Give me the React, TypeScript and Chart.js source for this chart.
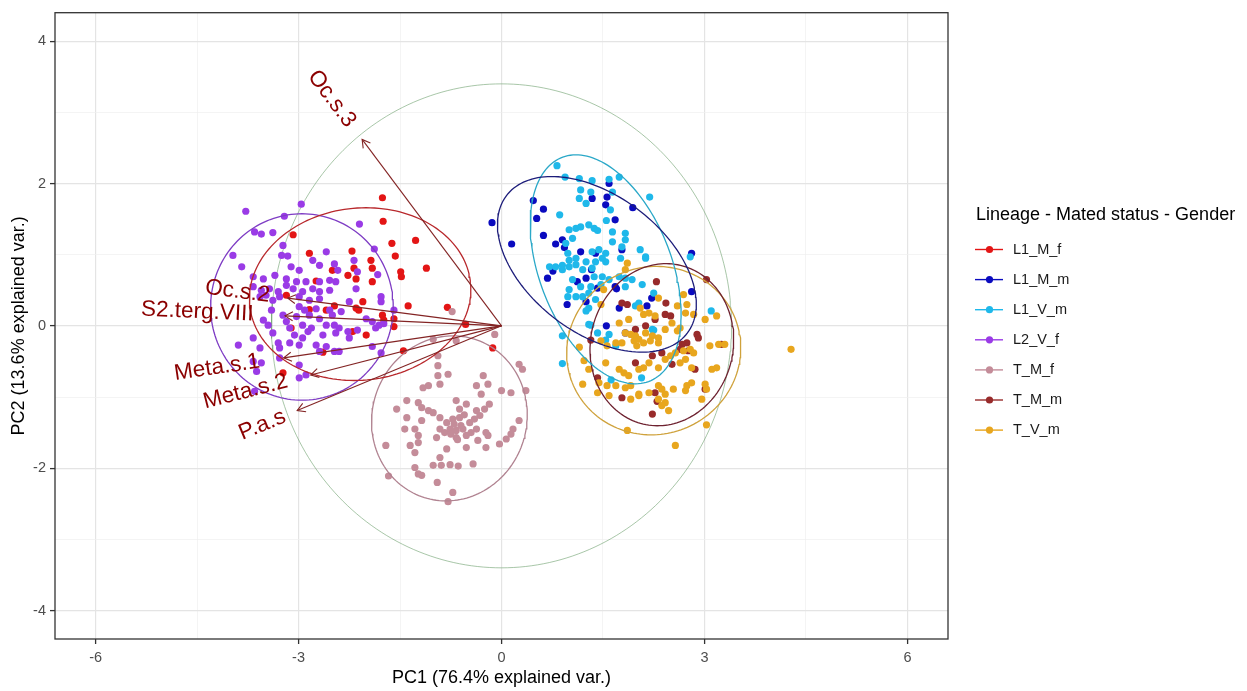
import React, { useEffect, useRef } from "react";
import { Chart, registerables } from "chart.js";
Chart.register(...registerables);

const FONT = "'Liberation Sans', Arial, sans-serif";

const groupNames = ["L1_M_f", "L1_M_m", "L1_V_m", "L2_V_f", "T_M_f", "T_M_m", "T_V_m"];
const groupColors = ["#E31515", "#0A0ABF", "#1FB8EA", "#9A3BE6", "#C48C99", "#982B2B", "#E8A61E"];
const ellipseColors = ["#B8282C", "#1C1C7A", "#2AA8C8", "#7E3CC4", "#B08290", "#6E2230", "#CFA23C"];

const L1_M_f: [number, number][] = [
  [-1.76, 1.8], [-1.75, 1.47], [-3.08, 1.28], [-1.62, 1.16], [-1.27, 1.2], [-1.57, 0.98], [-1.11, 0.81],
  [-2.84, 1.02], [-2.21, 1.05], [-1.93, 0.92], [-2.18, 0.81], [-1.91, 0.81], [-1.49, 0.76], [-1.48, 0.69],
  [-2.74, 0.63], [-2.5, 0.78], [-2.27, 0.71], [-2.15, 0.66], [-1.91, 0.62], [-3.18, 0.43], [-2.47, 0.28],
  [-2.84, 0.23], [-2.59, 0.22], [-2.15, 0.25], [-2.05, 0.34], [-2.11, 0.22], [-1.38, 0.28], [-0.8, 0.26],
  [-1.76, 0.15], [-1.74, 0.08], [-1.59, 0.1], [-1.59, -0.01], [-3.11, -0.03], [-2.2, -0.08], [-2.0, -0.13],
  [-2.64, -0.37], [-1.45, -0.35], [-3.23, -0.66], [-0.53, 0.02], [-0.13, -0.31],
];

const L1_M_m: [number, number][] = [
  [-0.14, 1.45], [0.15, 1.15], [0.47, 1.76], [0.62, 1.64], [0.52, 1.51], [0.62, 1.27], [0.8, 1.15],
  [0.9, 1.21], [0.93, 1.1], [1.34, 1.79], [1.56, 1.81], [1.54, 1.7], [1.94, 1.66], [1.68, 1.49],
  [1.78, 1.07], [1.17, 1.04], [1.39, 1.02], [0.68, 0.67], [0.76, 0.77], [1.12, 0.62], [1.25, 0.67],
  [1.42, 0.53], [1.33, 0.79], [1.68, 0.55], [1.7, 0.52], [0.97, 0.3], [1.25, 0.34], [1.74, 0.25],
  [2.22, 0.39], [2.15, 0.28], [1.55, 0.0], [2.81, 1.02], [2.81, 0.48], [1.83, -0.1], [1.59, 2.0],
];

const L1_V_m: [number, number][] = [
  [0.82, 2.25], [0.94, 2.09], [1.15, 2.07], [1.34, 2.04], [1.59, 2.06], [1.74, 2.09], [1.17, 1.91],
  [1.32, 1.88], [1.64, 1.88], [2.19, 1.81], [1.15, 1.79], [1.25, 1.72], [1.61, 1.63], [0.86, 1.56],
  [1.55, 1.48], [1.0, 1.35], [1.1, 1.37], [1.17, 1.39], [1.29, 1.42], [1.37, 1.37], [1.42, 1.34],
  [1.64, 1.32], [1.83, 1.3], [1.05, 1.23], [1.64, 1.18], [1.83, 1.21], [1.78, 1.11], [2.05, 1.07],
  [2.13, 0.95], [0.95, 1.16], [0.98, 1.02], [1.1, 0.95], [1.34, 1.04], [1.44, 1.07], [1.54, 1.02],
  [1.49, 0.95], [1.1, 0.86], [1.25, 0.9], [1.39, 0.9], [1.54, 0.9], [0.71, 0.83], [0.8, 0.83],
  [0.9, 0.79], [1.0, 0.83], [1.2, 0.79], [1.37, 0.69], [1.49, 0.69], [1.59, 0.65], [1.74, 0.69],
  [1.83, 0.67], [1.93, 0.65], [1.05, 0.65], [1.17, 0.55], [1.32, 0.55], [1.47, 0.58], [1.0, 0.51],
  [1.1, 0.41], [1.2, 0.41], [1.29, 0.46], [1.83, 0.55], [2.08, 0.58], [0.98, 0.41], [1.29, 0.25],
  [1.25, 0.21], [1.39, 0.37], [0.9, -0.14], [1.29, 0.02], [1.42, -0.1], [1.59, -0.12], [2.23, -0.05],
  [1.98, 0.28], [2.79, 0.97], [0.9, -0.53], [1.69, -0.28], [0.9, 0.85], [1.0, 0.92], [1.34, 0.81],
  [1.76, 0.95], [2.13, 0.97], [2.03, 0.32], [2.25, 0.46], [2.25, -0.06], [1.62, -0.76], [2.07, -0.73],
  [3.1, 0.21], [1.32, 0.01], [1.54, -0.2],
];

const L2_V_f: [number, number][] = [
  [-3.78, 1.61], [-2.96, 1.71], [-3.21, 1.54], [-3.65, 1.32], [-3.55, 1.29], [-3.38, 1.31], [-3.97, 0.99],
  [-3.84, 0.83], [-3.23, 1.13], [-3.25, 0.99], [-3.16, 0.98], [-2.1, 1.43], [-1.88, 1.08], [-2.59, 1.04],
  [-2.79, 0.92], [-3.11, 0.83], [-2.99, 0.78], [-2.69, 0.85], [-2.47, 0.87], [-2.42, 0.78], [-2.18, 0.92],
  [-2.13, 0.76], [-1.83, 0.72], [-3.67, 0.69], [-3.52, 0.66], [-3.35, 0.71], [-3.18, 0.66], [-3.03, 0.62],
  [-2.89, 0.62], [-2.69, 0.62], [-2.54, 0.64], [-2.45, 0.62], [-3.67, 0.55], [-3.55, 0.5], [-3.43, 0.52],
  [-3.3, 0.48], [-3.18, 0.57], [-3.08, 0.52], [-2.94, 0.48], [-2.79, 0.52], [-2.69, 0.48], [-2.54, 0.5],
  [-2.15, 0.52], [-3.57, 0.41], [-3.48, 0.43], [-3.38, 0.36], [-3.28, 0.41], [-2.99, 0.41], [-2.84, 0.36],
  [-2.69, 0.38], [-2.25, 0.34], [-1.78, 0.41], [-1.78, 0.34], [-2.99, 0.27], [-2.91, 0.22], [-2.74, 0.24],
  [-2.54, 0.22], [-2.37, 0.2], [-3.4, 0.22], [-3.23, 0.15], [-3.03, 0.13], [-2.84, 0.15], [-2.69, 0.1],
  [-2.5, 0.15], [-2.0, 0.1], [-1.91, 0.06], [-1.81, 0.01], [-1.74, 0.03], [-1.59, 0.22], [-3.52, 0.08],
  [-3.45, 0.01], [-3.18, 0.06], [-3.13, -0.03], [-2.94, 0.01], [-2.81, -0.03], [-2.59, 0.01], [-2.47, 0.01],
  [-2.4, -0.03], [-2.27, -0.08], [-2.13, -0.06], [-3.67, -0.17], [-3.38, -0.1], [-3.06, -0.13], [-2.94, -0.17],
  [-2.86, -0.08], [-2.64, -0.13], [-2.45, -0.1], [-2.25, -0.17], [-1.86, -0.03], [-3.89, -0.27], [-3.3, -0.24],
  [-3.13, -0.24], [-2.99, -0.27], [-2.74, -0.27], [-2.69, -0.36], [-2.59, -0.29], [-2.47, -0.36], [-2.4, -0.36],
  [-1.91, -0.29], [-1.78, -0.38], [-3.57, -0.31], [-3.67, -0.5], [-3.55, -0.52], [-3.28, -0.31], [-3.28, -0.45],
  [-2.99, -0.55], [-3.62, -0.64], [-2.99, -0.73], [-2.89, -0.69], [-3.65, -0.92],
];

const T_M_f: [number, number][] = [
  [-1.01, -0.19], [-0.67, -0.21], [-0.1, -0.12], [-0.94, -0.56], [-0.79, -0.68], [-0.94, -0.7], [-0.91, -0.82],
  [-1.16, -0.87], [-1.08, -0.84], [-0.27, -0.7], [-0.37, -0.84], [-0.2, -0.82], [0.26, -0.54], [0.31, -0.61],
  [0.0, -0.91], [0.14, -0.94], [0.36, -0.91], [-0.3, -0.96], [-0.18, -1.1], [-1.55, -1.17], [-1.4, -1.05],
  [-1.23, -1.08], [-1.18, -1.15], [-1.08, -1.19], [-1.01, -1.22], [-0.67, -1.05], [-0.52, -1.1], [-0.62, -1.17],
  [-0.37, -1.19], [-0.32, -1.26], [-0.25, -1.17], [-1.4, -1.29], [-1.18, -1.33], [-0.91, -1.29], [-0.81, -1.36],
  [-0.72, -1.31], [-0.62, -1.29], [-0.47, -1.36], [-0.4, -1.31], [-1.43, -1.45], [-1.28, -1.45], [-1.23, -1.54],
  [-0.91, -1.45], [-0.84, -1.5], [-0.76, -1.45], [-0.67, -1.47], [-0.57, -1.45], [-0.52, -1.54], [-0.37, -1.45],
  [-0.2, -1.54], [-0.23, -1.5], [0.26, -1.33], [0.17, -1.45], [0.14, -1.52], [0.07, -1.59], [-0.03, -1.66],
  [-1.71, -1.68], [-1.35, -1.68], [-1.23, -1.64], [-0.96, -1.57], [-0.81, -1.73], [-0.67, -1.57], [-0.52, -1.71],
  [-0.35, -1.61], [-0.23, -1.71], [-1.28, -1.78], [-0.91, -1.85], [-1.01, -1.96], [-0.89, -1.96], [-0.76, -1.95],
  [-0.64, -1.97], [-0.42, -1.94], [-1.28, -1.99], [-1.23, -2.08], [-1.18, -2.1], [-1.67, -2.11], [-0.95, -2.2],
  [-0.72, -2.34], [-0.79, -2.47], [-0.73, 0.2], [-0.94, -0.42], [-0.6, -1.4], [-0.7, -1.38], [-0.55, -1.25],
  [-0.45, -1.5], [-0.75, -1.52], [-0.65, -1.6],
];

const T_M_m: [number, number][] = [
  [2.29, 0.62], [3.03, 0.65], [1.78, 0.32], [1.86, 0.3], [2.43, 0.32], [2.27, 0.09], [2.42, 0.16],
  [2.5, 0.14], [2.89, -0.12], [2.91, -0.17], [2.74, -0.24], [2.76, -0.35], [2.67, -0.26], [1.98, -0.05],
  [2.23, -0.42], [2.37, -0.38], [2.52, -0.54], [2.86, -0.61], [3.25, -0.26], [1.32, -0.2], [1.42, -0.73],
  [1.98, -0.52], [1.78, -1.01], [2.27, -0.94], [2.3, -1.06], [2.23, -1.24], [3.01, -0.89], [2.13, 0.0],
  [2.64, -0.33],
];

const T_V_m: [number, number][] = [
  [1.86, 0.88], [1.83, 0.79], [1.51, 0.51], [1.47, 0.3], [2.05, 0.25], [2.32, 0.39], [2.6, 0.28],
  [2.69, 0.44], [2.74, 0.3], [2.72, 0.18], [2.84, 0.16], [3.01, 0.09], [3.18, 0.14], [1.74, 0.04],
  [1.88, 0.09], [2.1, 0.16], [2.18, 0.18], [2.27, 0.14], [2.42, -0.05], [2.52, 0.04], [2.6, -0.07],
  [2.64, -0.03], [1.83, -0.1], [1.91, -0.12], [1.98, -0.14], [2.03, -0.19], [2.13, -0.1], [2.23, -0.14],
  [2.32, -0.17], [1.78, -0.24], [1.96, -0.21], [2.0, -0.28], [2.1, -0.24], [2.2, -0.21], [2.32, -0.24],
  [1.47, -0.21], [1.56, -0.28], [1.69, -0.24], [3.08, -0.28], [3.21, -0.26], [3.3, -0.26], [1.54, -0.52],
  [1.74, -0.61], [1.81, -0.66], [1.88, -0.7], [2.03, -0.61], [2.1, -0.59], [2.18, -0.52], [2.32, -0.59],
  [2.42, -0.47], [2.5, -0.42], [2.57, -0.38], [2.69, -0.35], [2.79, -0.33], [2.84, -0.38], [2.72, -0.47],
  [2.64, -0.52], [3.11, -0.61], [3.18, -0.59], [2.81, -0.59], [1.22, -0.49], [1.29, -0.61], [1.2, -0.82],
  [1.44, -0.8], [1.56, -0.84], [1.69, -0.84], [1.83, -0.87], [1.91, -0.84], [2.03, -0.96], [2.18, -0.94],
  [2.32, -0.84], [2.37, -0.89], [2.42, -0.96], [2.54, -0.89], [2.72, -0.91], [2.74, -0.84], [2.81, -0.8],
  [3.01, -0.82], [3.03, -0.89], [2.96, -1.03], [1.42, -0.94], [1.59, -0.98], [1.91, -1.03], [2.03, -0.98],
  [2.32, -1.03], [2.42, -1.08], [2.37, -1.12], [2.47, -1.19], [1.86, -1.47], [3.03, -1.39], [2.57, -1.68],
  [4.28, -0.33], [1.15, -0.3],
];

const groupPoints = [L1_M_f, L1_M_m, L1_V_m, L2_V_f, T_M_f, T_M_m, T_V_m];

// 68% normal data ellipses per group: centre, semi-axes, rotation (degrees)
const ellipseCX = [-2.09, 1.41, 1.54, -2.95, -0.77, 2.37, 2.25];
const ellipseCY = [0.446, 0.864, 0.794, 0.265, -1.3, -0.265, -0.348];
const ellipseA = [1.64, 1.65, 1.7, 1.35, 1.18, 1.15, 1.29];
const ellipseB = [1.21, 0.98, 0.97, 1.31, 1.13, 1.05, 1.18];
const ellipseAngle = [5, -34.4, -66.8, 0, 50, 70, 10];

const circleRadius = 3.4;

const varNames = ["Oc.s.3", "Oc.s.2", "S2.terg.VIII", "Meta.s.1", "Meta.s.2", "P.a.s"];
const varX = [-2.06, -3.16, -3.2, -3.22, -2.82, -3.02];
const varY = [2.62, 0.39, 0.14, -0.45, -0.69, -1.19];

const xTicks = [-6, -4.5, -3, -1.5, 0, 1.5, 3, 4.5, 6];
const xTickLabels = [-6, -3, 0, 3, 6];
const yTicks = [-4, -3, -2, -1, 0, 1, 2, 3, 4];
const yTickLabels = [-4, -2, 0, 2, 4];

const xTitle = "PC1 (76.4% explained var.)";
const yTitle = "PC2 (13.6% explained var.)";
const legendTitle = "Lineage - Mated status - Gender";

const ARROW_COLOR = "#832424";
const LABEL_COLOR = "#8B0000";

function ellipsePoints(cx: number, cy: number, a: number, b: number, angDeg: number, n = 160) {
  const t0 = (angDeg * Math.PI) / 180;
  const pts: { x: number; y: number }[] = [];
  for (let i = 0; i <= n; i++) {
    const t = (2 * Math.PI * i) / n;
    const ex = a * Math.cos(t);
    const ey = b * Math.sin(t);
    pts.push({ x: cx + ex * Math.cos(t0) - ey * Math.sin(t0), y: cy + ex * Math.sin(t0) + ey * Math.cos(t0) });
  }
  return pts;
}

const overlayPlugin = {
  id: "overlay",
  afterDatasetsDraw(chart: any) {
    const { ctx, chartArea, scales } = chart;
    const xs = scales.x;
    const ys = scales.y;
    const ox = xs.getPixelForValue(0);
    const oy = ys.getPixelForValue(0);
    ctx.save();
    ctx.beginPath();
    ctx.rect(chartArea.left, chartArea.top, chartArea.right - chartArea.left, chartArea.bottom - chartArea.top);
    ctx.clip();
    varNames.forEach((name, i) => {
      const ex = xs.getPixelForValue(varX[i]);
      const ey = ys.getPixelForValue(varY[i]);
      const ang = Math.atan2(ey - oy, ex - ox);
      const L = 9;
      const sp = Math.PI / 6;
      ctx.strokeStyle = ARROW_COLOR;
      ctx.lineWidth = 1.1;
      ctx.beginPath();
      ctx.moveTo(ex - L * Math.cos(ang - sp), ey - L * Math.sin(ang - sp));
      ctx.lineTo(ex, ey);
      ctx.lineTo(ex - L * Math.cos(ang + sp), ey - L * Math.sin(ang + sp));
      ctx.stroke();
    });
    varNames.forEach((name, i) => {
      const ex = xs.getPixelForValue(varX[i]);
      const ey = ys.getPixelForValue(varY[i]);
      const rot = Math.atan((ey - oy) / (ex - ox));
      ctx.save();
      ctx.font = `22.5px ${FONT}`;
      const w = ctx.measureText(name).width;
      ctx.translate(ex, ey);
      ctx.rotate(rot);
      ctx.fillStyle = LABEL_COLOR;
      ctx.textAlign = "left";
      ctx.textBaseline = "middle";
      const hj = varX[i] < 0 ? 1.28 : -0.28;
      ctx.fillText(name, -hj * w, 0);
      ctx.restore();
    });
    ctx.restore();
  },
  afterDraw(chart: any) {
    const { ctx, chartArea } = chart;
    ctx.save();
    ctx.strokeStyle = "#333333";
    ctx.lineWidth = 1.3;
    ctx.strokeRect(chartArea.left, chartArea.top, chartArea.right - chartArea.left, chartArea.bottom - chartArea.top);
    // legend
    ctx.fillStyle = "#000000";
    ctx.font = `18px ${FONT}`;
    ctx.textAlign = "left";
    ctx.textBaseline = "middle";
    ctx.fillText(legendTitle, 976, 215);
    groupNames.forEach((g, i) => {
      const yy = 249.5 + i * 30.1;
      ctx.strokeStyle = groupColors[i];
      ctx.lineWidth = 1.4;
      ctx.beginPath();
      ctx.moveTo(975, yy);
      ctx.lineTo(1003, yy);
      ctx.stroke();
      ctx.fillStyle = groupColors[i];
      ctx.beginPath();
      ctx.arc(989.5, yy, 3.6, 0, Math.PI * 2);
      ctx.fill();
      ctx.fillStyle = "#1a1a1a";
      ctx.font = `14.5px ${FONT}`;
      ctx.fillText(g, 1013, yy);
    });
    ctx.restore();
  },
};

export default function App() {
  const ref = useRef<HTMLCanvasElement>(null);
  useEffect(() => {
    document.body.style.margin = "0";
    const datasets: any[] = [];
    datasets.push({
      label: "circle",
      data: ellipsePoints(0, 0, circleRadius, circleRadius, 0, 240),
      showLine: true,
      borderColor: "rgba(110,160,110,0.6)",
      borderWidth: 1,
      pointRadius: 0,
      order: 100,
    });
    groupNames.forEach((g, i) => {
      datasets.push({
        label: g,
        data: groupPoints[i].map(([x, y]) => ({ x, y })),
        backgroundColor: groupColors[i],
        borderWidth: 0,
        pointRadius: 3.6,
        order: 60 - i,
      });
    });
    groupNames.forEach((g, i) => {
      datasets.push({
        label: g + " ellipse",
        data: ellipsePoints(ellipseCX[i], ellipseCY[i], ellipseA[i], ellipseB[i], ellipseAngle[i]),
        showLine: true,
        borderColor: ellipseColors[i],
        borderWidth: 1.3,
        pointRadius: 0,
        order: 10,
      });
    });
    varNames.forEach((v, i) => {
      datasets.push({
        label: v,
        data: [
          { x: 0, y: 0 },
          { x: varX[i], y: varY[i] },
        ],
        showLine: true,
        borderColor: ARROW_COLOR,
        borderWidth: 1.1,
        pointRadius: 0,
        order: 5,
      });
    });

    const majorX = (v: number) => xTickLabels.includes(v);
    const majorY = (v: number) => yTickLabels.includes(v);

    const chart = new Chart(ref.current as HTMLCanvasElement, {
      type: "scatter",
      data: { datasets },
      options: {
        animation: false,
        responsive: false,
        maintainAspectRatio: false,
        events: [],
        layout: { padding: { top: 7, right: 299, left: 0, bottom: 0 } },
        plugins: { legend: { display: false }, tooltip: { enabled: false } },
        scales: {
          x: {
            type: "linear",
            min: -6.6,
            max: 6.6,
            afterBuildTicks: (scale: any) => {
              scale.ticks = xTicks.map((value) => ({ value }));
            },
            afterFit: (scale: any) => {
              scale.height = 52;
            },
            ticks: {
              autoSkip: false,
              maxRotation: 0,
              padding: 5,
              color: "#4D4D4D",
              font: { family: FONT, size: 14.5 },
              callback: (v: any) => (majorX(Number(v)) ? String(v) : ""),
            },
            grid: {
              color: (c: any) => (majorX(c.tick.value) ? "#e4e4e4" : "#efefef"),
              lineWidth: (c: any) => (majorX(c.tick.value) ? 1.2 : 0.7),
              tickColor: (c: any) => (majorX(c.tick.value) ? "#333333" : "rgba(0,0,0,0)"),
              tickLength: 5,
              tickWidth: 1.3,
            },
            border: { display: false },
            title: {
              display: true,
              text: xTitle,
              color: "#000",
              font: { family: FONT, size: 18 },
              padding: { top: 0, bottom: 2 },
            },
          },
          y: {
            type: "linear",
            min: -4.4,
            max: 4.4,
            afterBuildTicks: (scale: any) => {
              scale.ticks = yTicks.map((value) => ({ value }));
            },
            afterFit: (scale: any) => {
              scale.width = 55;
            },
            ticks: {
              autoSkip: false,
              padding: 4,
              color: "#4D4D4D",
              font: { family: FONT, size: 14.5 },
              callback: (v: any) => (majorY(Number(v)) ? String(v) : ""),
            },
            grid: {
              color: (c: any) => (majorY(c.tick.value) ? "#e4e4e4" : "#efefef"),
              lineWidth: (c: any) => (majorY(c.tick.value) ? 1.2 : 0.7),
              tickColor: (c: any) => (majorY(c.tick.value) ? "#333333" : "rgba(0,0,0,0)"),
              tickLength: 5,
              tickWidth: 1.3,
            },
            border: { display: false },
            title: {
              display: true,
              text: yTitle,
              color: "#000",
              font: { family: FONT, size: 18 },
              padding: { top: 8, bottom: 0 },
            },
          },
        },
      } as any,
      plugins: [overlayPlugin],
    });
    return () => chart.destroy();
  }, []);
  return (
    <div style={{ width: 1247, height: 691 }}>
      <canvas ref={ref} width={1247} height={691} style={{ width: "1247px", height: "691px", display: "block" }} />
    </div>
  );
}
